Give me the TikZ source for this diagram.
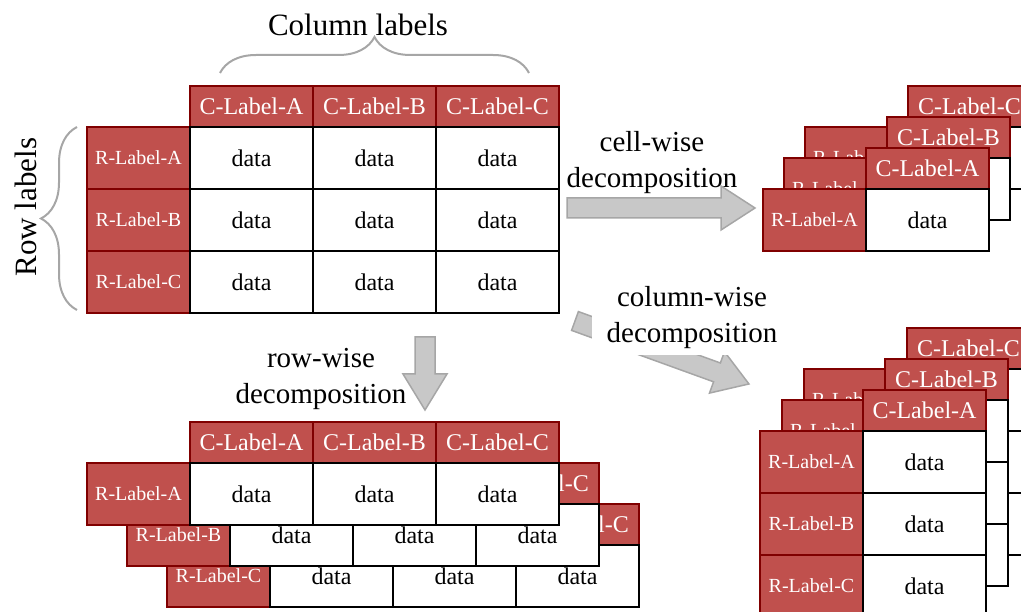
\documentclass[tikz,border=0pt]{standalone}
\usepackage{fontspec}
\setmainfont{Liberation Serif}
\usetikzlibrary{decorations.pathreplacing}

\definecolor{hdrred}{RGB}{192,80,77}
\definecolor{hdrline}{RGB}{128,0,0}
\definecolor{arrowfill}{RGB}{200,200,200}
\definecolor{arrowline}{RGB}{166,166,166}

\tikzset{
  box/.style={rectangle, inner sep=0pt, anchor=north west, line width=2pt},
  chead/.style={box, draw=hdrline, fill=hdrred, text=white, minimum width=123pt, minimum height=41pt, font=\fontsize{24}{28}\selectfont},
  rhead/.style={box, draw=hdrline, fill=hdrred, text=white, minimum width=103pt, minimum height=62pt, font=\fontsize{20}{24}\selectfont},
  datacell/.style={box, draw=black, fill=white, minimum width=123pt, minimum height=62pt, font=\fontsize{24}{28}\selectfont},
  bigtext/.style={font=\fontsize{31}{36}\selectfont},
  steptext/.style={align=center, font=\fontsize{29}{36}\selectfont},
  bigarrow/.style={fill=arrowfill, draw=arrowline, line width=1.5pt, line join=miter},
  curly/.style={draw=arrowline, line width=2pt, decorate, decoration={brace, amplitude=36pt}},
}

% origin, angle, length, head length
\newcommand{\fatarrow}[4]{%
  \begin{scope}[shift={#1}, rotate=#2]
    \path[bigarrow] (0,-10) -- ({#3-#4},-10) -- ({#3-#4},-22) -- (#3,0)
      -- ({#3-#4},22) -- ({#3-#4},10) -- (0,10) -- cycle;
  \end{scope}}

\begin{document}
\begin{tikzpicture}[x=1pt, y=-1pt]
    \clip (0,0) rectangle (1021,612);

    % original table
    \foreach \c [count=\i] in {A,B,C} {
        \node[chead] (mh\c) at ({189+123*(\i-1)},85) {C-Label-\c};
        \node[rhead] (mr\c) at (86,{126+62*(\i-1)}) {R-Label-\c};
    }
    \foreach \r [count=\i] in {A,B,C}
        \foreach \c [count=\j] in {A,B,C}
            \node[datacell] (md\r\c) at ({189+123*(\j-1)},{126+62*(\i-1)}) {data};

    \draw[curly] (220,73) -- (529,73);
    \node[bigtext, anchor=base] (collabel) at (358,36) {Column labels};
    \draw[curly] (77,310) -- (77,127);
    \node[bigtext, rotate=90] (rowlabel) at (26,207) {Row labels};

    % row-wise
    \foreach \r/\k in {C/2,B/1,A/0} {
        \foreach \c [count=\j] in {A,B,C}
            \node[chead] (rw\r h\c) at ({189+40*\k+123*(\j-1)},{421+41*\k}) {C-Label-\c};
        \node[rhead] (rw\r r) at ({86+40*\k},{462+41*\k}) {R-Label-\r};
        \foreach \c [count=\j] in {A,B,C}
            \node[datacell] (rw\r d\c) at ({189+40*\k+123*(\j-1)},{462+41*\k}) {data};
    }

    % cell-wise
    \foreach \c/\k in {C/2,B/1,A/0} {
        \node[rhead] (cw\c r) at ({762+21*\k},{188-31*\k}) {R-Label-A};
        \node[chead] (cw\c h) at ({865+21*\k},{147-31*\k}) {C-Label-\c};
        \node[datacell] (cw\c d) at ({865+21*\k},{188-31*\k}) {data};
    }

    % column-wise
    \foreach \c/\k in {C/2,B/1,A/0} {
        \node[chead] (cl\c h) at ({862+22*\k},{389-31*\k}) {C-Label-\c};
        \foreach \r [count=\i] in {A,B,C} {
            \node[rhead] (cl\c r\r) at ({759+22*\k},{430-31*\k+62*(\i-1)}) {R-Label-\r};
            \node[datacell] (cl\c d\r) at ({862+22*\k},{430-31*\k+62*(\i-1)}) {data};
        }
    }

    % arrows
    \fatarrow{(567,208)}{0}{188}{34}
    \fatarrow{(425,337)}{-90}{73}{36}
    \fatarrow{(575,321)}{-19.9}{185}{34}

    \node[steptext] (cellstep) at (652,163) {cell-wise\\decomposition};
    \node[steptext] (rowstep) at (321,379) {row-wise\\decomposition};
    \node[steptext, fill=white, inner xsep=15pt, inner ysep=6pt] (colstep) at (692,318) {column-wise\\decomposition};
\end{tikzpicture}
\end{document}
